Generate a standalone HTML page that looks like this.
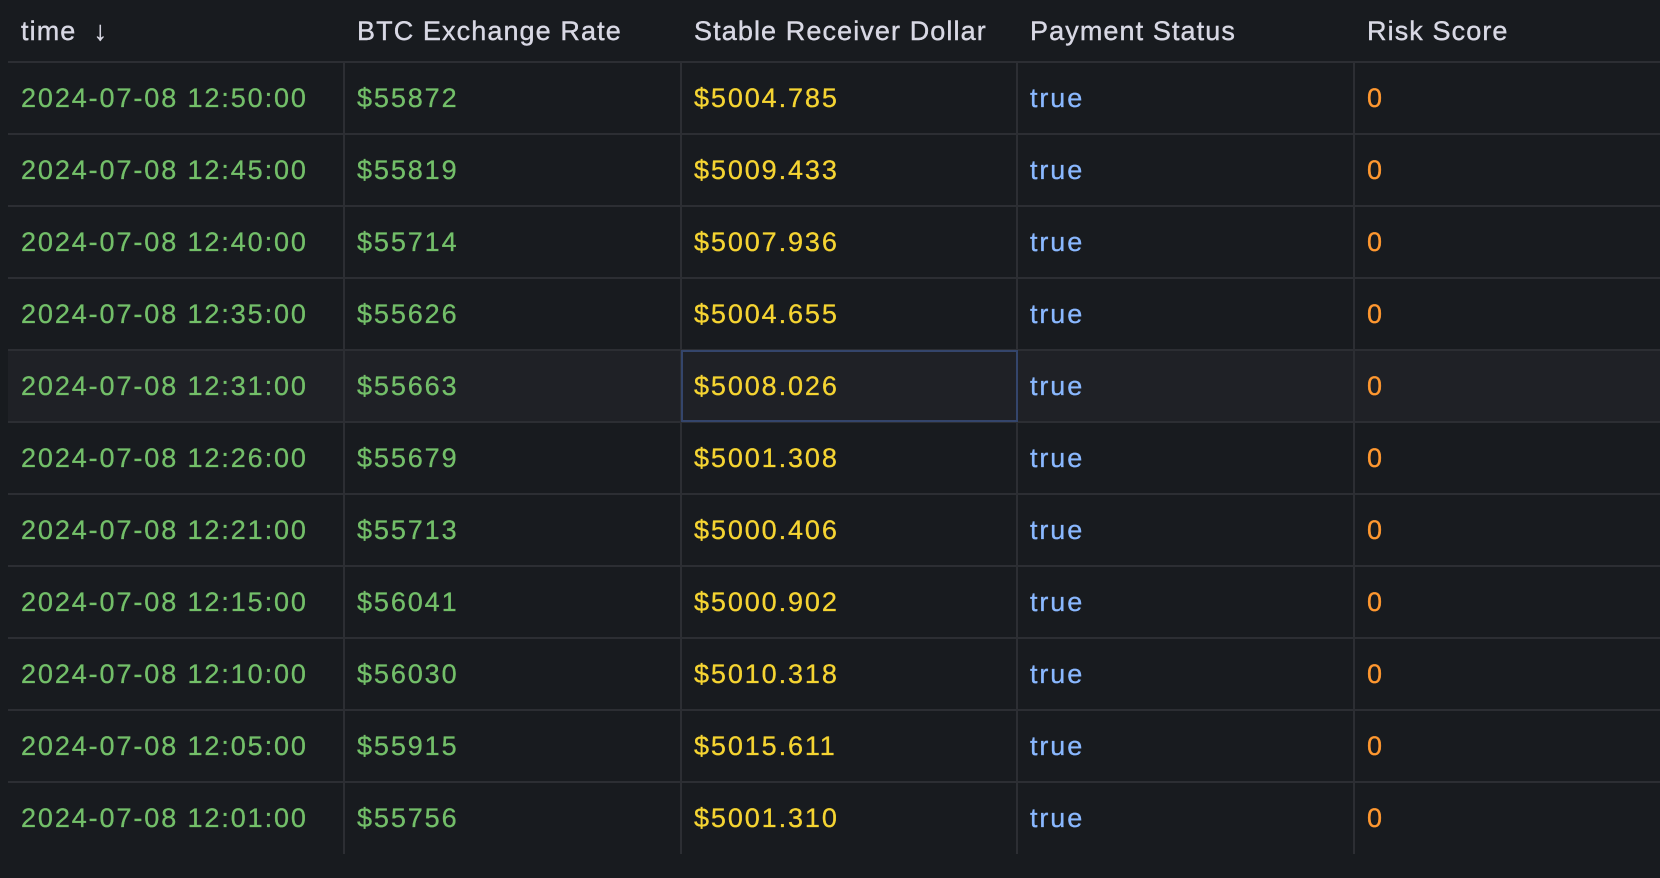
<!DOCTYPE html>
<html><head><meta charset="utf-8"><style>
html,body{margin:0;padding:0;background:#181b1f;width:1660px;height:878px;overflow:hidden;font-family:"Liberation Sans",sans-serif;}
#t{position:absolute;left:0;top:0;width:1660px;height:878px;}
.h{position:absolute;top:16px;font-size:27px;color:#d8d8e4;letter-spacing:1.1px;white-space:nowrap;-webkit-text-stroke:0.4px #d8d8e4}
.hl{position:absolute;left:8px;right:0;height:2px;background:#2c2e33}
.vl{position:absolute;width:2px;background:#2c2e33;top:62px;height:792px}
.c{position:absolute;font-size:27px;letter-spacing:1.9px;white-space:nowrap;line-height:72px;height:72px}
</style></head><body>
<div id="t"></div>
<script>
const times=["2024-07-08 12:50:00","2024-07-08 12:45:00","2024-07-08 12:40:00","2024-07-08 12:35:00","2024-07-08 12:31:00","2024-07-08 12:26:00","2024-07-08 12:21:00","2024-07-08 12:15:00","2024-07-08 12:10:00","2024-07-08 12:05:00","2024-07-08 12:01:00"];
const btc=["$55872","$55819","$55714","$55626","$55663","$55679","$55713","$56041","$56030","$55915","$55756"];
const stable=["$5004.785","$5009.433","$5007.936","$5004.655","$5008.026","$5001.308","$5000.406","$5000.902","$5010.318","$5015.611","$5001.310"];
const status=["true","true","true","true","true","true","true","true","true","true","true"];
const risk=["0","0","0","0","0","0","0","0","0","0","0"];
const headers=["time  \u2193","BTC Exchange Rate","Stable Receiver Dollar","Payment Status","Risk Score"];
const t=document.getElementById('t');
const colX=[8,344,681,1017,1354];
const colors=["#73bf69","#73bf69","#f5d432","#8ab8ff","#ff9830"];
const cols=[times,btc,stable,status,risk];
const top0=62,rh=72;
const hr=document.createElement('div');


hr.style.cssText=`position:absolute;left:8px;right:0;top:${top0+4*rh}px;height:${rh}px;background:#1f2126`;
t.appendChild(hr);
const hc=document.createElement('div');


hc.style.cssText=`position:absolute;left:681px;top:${top0+4*rh}px;width:337px;height:${rh}px;box-sizing:border-box;border:2px solid #34456b;z-index:2`;
t.appendChild(hc);
headers.forEach((h,i)=>{
 const d=document.createElement('div');
 d.className='h';
 
 
 d.style.left=(colX[i]+13)+'px';
 d.style.whiteSpace='pre';
 d.textContent=h;
 t.appendChild(d);
});
for(let r=0;r<=10;r++){
 const l=document.createElement('div');
 l.className='hl';
 
 
 l.style.top=(top0+r*rh-1)+'px';
 t.appendChild(l);
}
for(let i=1;i<5;i++){
 const v=document.createElement('div');
 v.className='vl';
 
 
 v.style.left=(colX[i]-1)+'px';
 t.appendChild(v);
}
for(let r=0;r<times.length;r++){
 for(let c=0;c<5;c++){
  const d=document.createElement('div');
  d.className='c';
  
  
  d.style.left=(colX[c]+13)+'px';
  d.style.top=(top0+r*rh)+'px';
  d.style.color=colors[c];
  d.style.webkitTextStroke='0.3px '+colors[c];
  d.textContent=cols[c][r];
  t.appendChild(d);
 }
}
</script>
</body></html>
